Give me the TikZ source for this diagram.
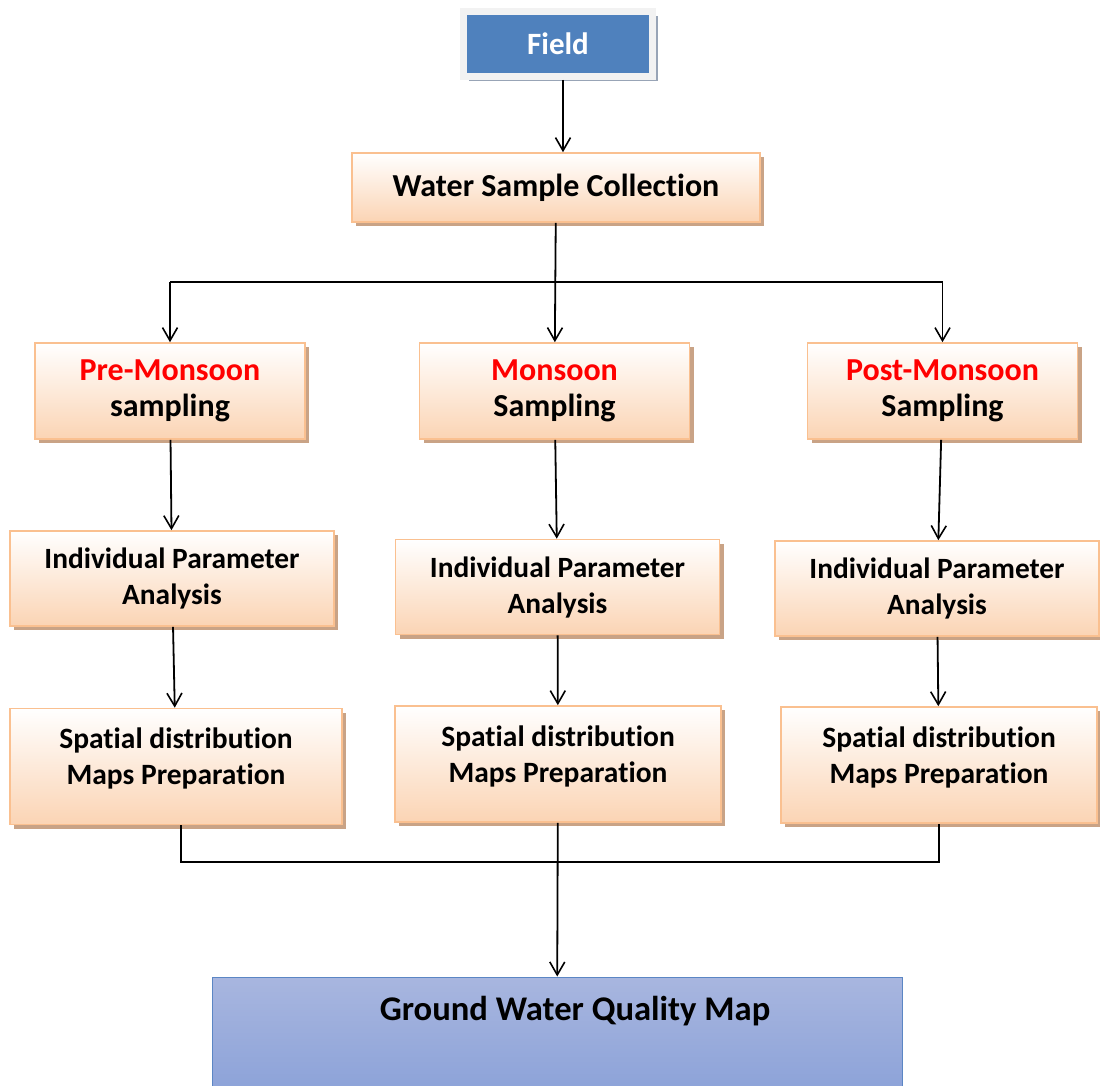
\documentclass[tikz,border=0pt]{standalone}
\usepackage{fontspec}
\setmainfont{Carlito}[Ligatures={NoCommon,NoRare}]
\usetikzlibrary{arrows.meta,shadows}
\definecolor{peach}{HTML}{FBD4B4}
\definecolor{peachline}{HTML}{FAC090}
\definecolor{tanshadow}{HTML}{C9A386}
\definecolor{fieldblue}{HTML}{4F81BD}
\definecolor{fieldframe}{HTML}{F2F2F2}
\definecolor{fieldshadow}{HTML}{98A4B6}
\definecolor{maptop}{HTML}{A8B6DF}
\definecolor{mapbottom}{HTML}{8AA1D8}
\definecolor{mapline}{HTML}{5B86C4}
\definecolor{seasonred}{HTML}{FF0000}
\begin{document}
\begin{tikzpicture}[x=1pt,y=-1pt,>={Straight Barb[length=13pt,width=15pt,line width=1.6pt]},line width=1.8pt,
  stepbox/.style={draw=peachline,line width=1.6pt,top color=white,bottom color=peach,align=center,inner sep=0pt,
    drop shadow={shadow xshift=4pt,shadow yshift=-4pt,fill=tanshadow,opacity=1}},
  seasonbox/.style={stepbox,minimum width=270pt,minimum height=96pt,font=\fontsize{32}{36}\selectfont\bfseries},
  parambox/.style={stepbox,minimum width=324pt,minimum height=95pt,font=\fontsize{29.4}{36}\selectfont\bfseries},
  mapsbox/.style={stepbox,minimum height=116pt},
  mapstext/.style={align=center,yshift=8pt,font=\fontsize{29.5}{36}\selectfont\bfseries},
  fieldbox/.style={fill=fieldblue,draw=fieldframe,line width=7pt,text=white,minimum width=189pt,minimum height=65pt,
    font=\fontsize{31}{36}\selectfont\bfseries,drop shadow={shadow xshift=5pt,shadow yshift=-5pt,fill=fieldshadow,opacity=1}},
  finalbox/.style={draw=mapline,line width=1pt,top color=maptop,bottom color=mapbottom,minimum width=690pt,minimum height=123pt},
  finaltext/.style={xshift=18pt,yshift=27pt,font=\fontsize{34.6}{40}\selectfont\bfseries},
  thinline/.style={line width=1.2pt}]
  \useasboundingbox (0,0) rectangle (1100,1086);
  \node[fieldbox] (field) at (558,44) {Field};
  \node[stepbox,minimum width=408pt,minimum height=69pt,font=\fontsize{32}{36}\selectfont\bfseries] (wsc) at (556,187.5) {Water Sample Collection};
  \node[seasonbox] (pre) at (170,391) {\textcolor{seasonred}{Pre-Monsoon}\\sampling};
  \node[seasonbox] (mon) at (554.5,391) {\textcolor{seasonred}{Monsoon}\\Sampling};
  \node[seasonbox] (post) at (942.5,391) {\textcolor{seasonred}{Post-Monsoon}\\Sampling};
  \node[parambox] (indL) at (172,578.5) {Individual Parameter\\Analysis};
  \node[parambox] (indM) at (557.5,587) {Individual Parameter\\Analysis};
  \node[parambox] (indR) at (937,588.5) {Individual Parameter\\Analysis};
  \node[mapsbox,minimum width=332pt,label={[name=spLtext,mapstext]center:Spatial distribution\\Maps Preparation}] (spL) at (176,766.5) {};
  \node[mapsbox,minimum width=326pt,label={[name=spMtext,mapstext]center:Spatial distribution\\Maps Preparation}] (spM) at (558,764) {};
  \node[mapsbox,minimum width=316pt,label={[name=spRtext,mapstext]center:Spatial distribution\\Maps Preparation}] (spR) at (939,765) {};
  \node[finalbox,label={[name=gwqtext,finaltext]center:Ground Water Quality Map}] (gwq) at (557,1038.5) {};
  \coordinate (split) at (556,282);
  \coordinate (join) at (556,862);
  \draw[->] ([xshift=5pt]field.south) -- ([xshift=5pt]field.south |- wsc.north);
  \draw[->] (wsc) -- (mon);
  \draw[thinline] (split -| pre) -- (split -| post);
  \draw[->] (split -| pre) -- (pre);
  \draw[->] (split -| post) -- (post);
  \draw[->] (pre) -- (indL);
  \draw[->] (mon) -- (indM);
  \draw[->] (post) -- (indR);
  \draw[->] (indL) -- (spL);
  \draw[->] (indM) -- (spM);
  \draw[->] (indR) -- (spR);
  \draw[thinline] ([xshift=5pt]spL.south) |- (join) -| (spR.south);
  \draw[->] (spM) -- (gwq);
\end{tikzpicture}
\end{document}
